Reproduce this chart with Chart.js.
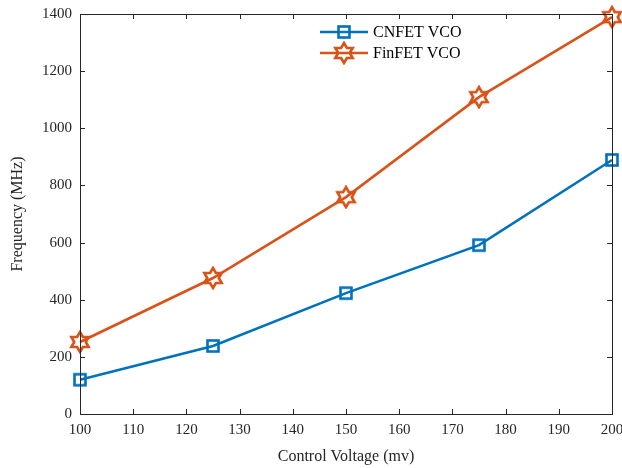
<!DOCTYPE html>
<html lang="en">
<head>
    <meta charset="UTF-8">
    <title>CNFET vs FinFET VCO</title>
    <script src="https://cdn.jsdelivr.net/npm/chart.js@4.4.0/dist/chart.umd.min.js"></script>
    <style>
        * { margin: 0; padding: 0; box-sizing: border-box; }
        body { background: #fff; width: 622px; height: 468px; overflow: hidden; }
        .wrap { width: 622px; height: 468px; position: relative; }
    </style>
</head>
<body>
    <div class="wrap">
        <canvas id="vcoChart" width="622" height="468"></canvas>
    </div>

    <script>
        // data
        const voltages = [100, 125, 150, 175, 200];
        const cnfetFreq = [120, 238, 423, 591, 889];
        const finfetFreq = [252, 476, 759, 1109, 1389];
        const xTicks = [100, 110, 120, 130, 140, 150, 160, 170, 180, 190, 200];
        const yTicks = [0, 200, 400, 600, 800, 1000, 1200, 1400];

        const BLUE = '#0072BD';
        const ORANGE = '#D95319';
        const AXIS = '#262626';
        const FONT = "'Liberation Serif', 'Times New Roman', serif";

        // marker images (transparent inside, like matlab)
        function squareMarker(color) {
            const c = document.createElement('canvas');
            c.width = 16; c.height = 16;
            const g = c.getContext('2d');
            g.strokeStyle = color;
            g.lineWidth = 2.6;
            g.strokeRect(2.5, 2.5, 11, 11);
            return c;
        }

        function hexagramMarker(color) {
            const c = document.createElement('canvas');
            c.width = 24; c.height = 24;
            const g = c.getContext('2d');
            const R = 10, r = R / Math.sqrt(3);
            g.beginPath();
            for (let i = 0; i < 12; i++) {
                const a = -Math.PI / 2 + i * Math.PI / 6;
                const rad = i % 2 === 0 ? R : r;
                const px = 12 + rad * Math.cos(a), py = 12 + rad * Math.sin(a);
                i === 0 ? g.moveTo(px, py) : g.lineTo(px, py);
            }
            g.closePath();
            g.strokeStyle = color;
            g.lineWidth = 2.6;
            g.lineJoin = 'miter';
            g.stroke();
            return c;
        }

        const sqImg = squareMarker(BLUE);
        const hexImg = hexagramMarker(ORANGE);

        // box, inward ticks and legend, matlab style
        const matlabFrame = {
            id: 'matlabFrame',
            afterDraw(chart) {
                const { ctx, chartArea: a, scales } = chart;
                ctx.save();
                ctx.strokeStyle = AXIS;
                ctx.lineWidth = 1;
                ctx.strokeRect(a.left + 0.5, a.top + 0.5, a.right - a.left, a.bottom - a.top);
                ctx.beginPath();
                xTicks.forEach(v => {
                    const x = Math.round(scales.x.getPixelForValue(v)) + 0.5;
                    ctx.moveTo(x, a.bottom); ctx.lineTo(x, a.bottom - 5);
                    ctx.moveTo(x, a.top); ctx.lineTo(x, a.top + 5);
                });
                yTicks.forEach(v => {
                    const y = Math.round(scales.y.getPixelForValue(v)) + 0.5;
                    ctx.moveTo(a.left, y); ctx.lineTo(a.left + 5, y);
                    ctx.moveTo(a.right, y); ctx.lineTo(a.right - 5, y);
                });
                ctx.stroke();

                // legend
                const entries = [
                    { label: 'CNFET VCO', color: BLUE, img: sqImg },
                    { label: 'FinFET VCO', color: ORANGE, img: hexImg }
                ];
                ctx.font = '16px ' + FONT;
                ctx.textBaseline = 'middle';
                entries.forEach((e, i) => {
                    const y = 32 + i * 21;
                    ctx.strokeStyle = e.color;
                    ctx.lineWidth = 2.6;
                    ctx.beginPath();
                    ctx.moveTo(320, y); ctx.lineTo(368, y);
                    ctx.stroke();
                    ctx.drawImage(e.img, 344 - e.img.width / 2, y - e.img.height / 2);
                    ctx.fillStyle = '#000';
                    ctx.fillText(e.label, 373, y + 1);
                });
                ctx.restore();
            }
        };

        new Chart(document.getElementById('vcoChart'), {
            type: 'line',
            data: {
                datasets: [{
                    label: 'CNFET VCO',
                    data: voltages.map((v, i) => ({ x: v, y: cnfetFreq[i] })),
                    borderColor: BLUE,
                    borderWidth: 2.6,
                    pointStyle: sqImg,
                    clip: false
                }, {
                    label: 'FinFET VCO',
                    data: voltages.map((v, i) => ({ x: v, y: finfetFreq[i] })),
                    borderColor: ORANGE,
                    borderWidth: 2.6,
                    pointStyle: hexImg,
                    clip: false
                }]
            },
            options: {
                responsive: false,
                animation: false,
                layout: { padding: { left: 0, right: 10, top: 14, bottom: 0 } },
                plugins: { legend: { display: false }, tooltip: { enabled: false } },
                scales: {
                    x: {
                        type: 'linear',
                        min: 100, max: 200,
                        afterBuildTicks: s => { s.ticks = xTicks.map(v => ({ value: v })); },
                        afterFit: s => { s.height = 54; s.paddingRight = 0; s.paddingLeft = 0; },
                        grid: { display: false },
                        border: { display: false },
                        ticks: { color: '#262626', font: { family: FONT, size: 15 }, padding: -1, maxRotation: 0,
                                 callback: v => String(v) },
                        title: { display: true, text: 'Control Voltage (mv)', color: '#262626', font: { family: FONT, size: 16 }, padding: { top: 0, bottom: 2 } }
                    },
                    y: {
                        min: 0, max: 1400,
                        afterBuildTicks: s => { s.ticks = yTicks.map(v => ({ value: v })); },
                        afterFit: s => { s.width = 80; s.paddingTop = 0; s.paddingBottom = 0; },
                        grid: { display: false },
                        border: { display: false },
                        ticks: { color: '#262626', font: { family: FONT, size: 15 }, padding: 0,
                                 callback: v => String(v) },
                        title: { display: true, text: 'Frequency (MHz)', color: '#262626', font: { family: FONT, size: 16 }, padding: { top: 8, bottom: 0 } }
                    }
                }
            },
            plugins: [matlabFrame]
        });
    </script>
</body>
</html>
